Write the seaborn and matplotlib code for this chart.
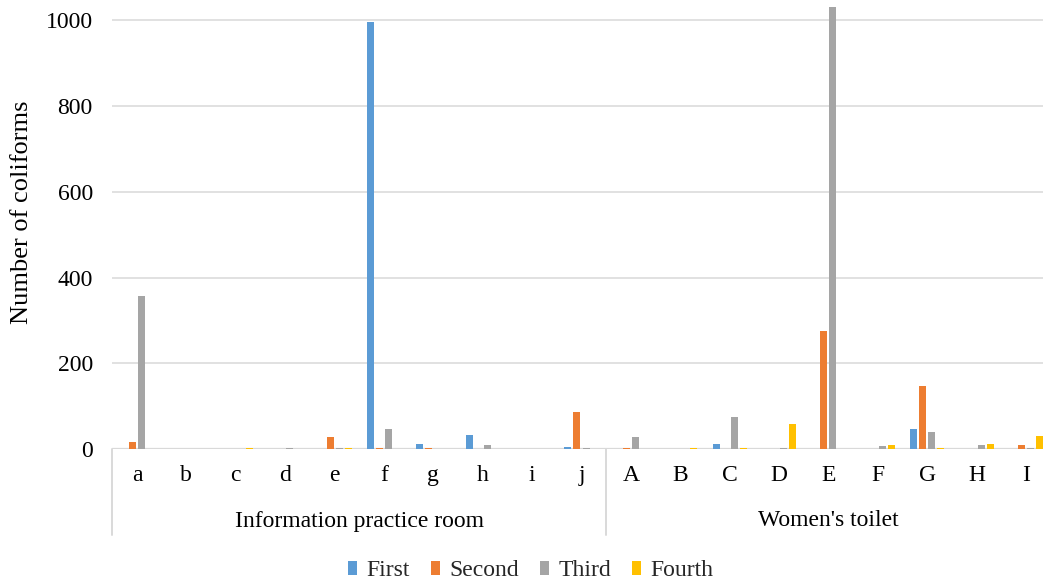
import matplotlib
matplotlib.use("Agg")
import matplotlib.pyplot as plt
from matplotlib.patches import Patch
import numpy as np
import pandas as pd
import seaborn as sns

# Sampling sites: lowercase = information practice room, uppercase = women's toilet
sites_room = ["a", "b", "c", "d", "e", "f", "g", "h", "i", "j"]
sites_toilet = ["A", "B", "C", "D", "E", "F", "G", "H", "I"]
groups = ["Information practice room", "Women's toilet"]
rounds = ["First", "Second", "Third", "Fourth"]

# Coliform counts per sampling round (room sites a-j, then toilet sites A-I)
first = [0, 0, 0, 0, 0, 995, 12, 33, 0, 5,
         0, 0, 12, 0, 0, 0, 47, 0, 0]
second = [16, 0, 0, 0, 28, 3, 2, 0, 0, 88,
          4, 0, 0, 0, 275, 0, 148, 0, 10]
third = [358, 0, 0, 4, 4, 47, 0, 10, 0, 4,
         28, 0, 76, 2, 1030, 7, 40, 10, 4]
fourth = [0, 0, 4, 0, 4, 0, 0, 0, 0, 0,
          0, 4, 4, 58, 0, 10, 4, 12, 31]

palette = ["#5B9BD5", "#ED7D31", "#A5A5A5", "#FFC000"]
yticks = [0, 200, 400, 600, 800, 1000]

sites = sites_room + sites_toilet
df = pd.DataFrame({
    "site": sites * 4,
    "round": np.repeat(rounds, len(sites)),
    "count": first + second + third + fourth,
})

sns.set_theme(style="white")
plt.rcParams["font.family"] = ["Liberation Serif", "DejaVu Serif"]

W, H = 1043, 585
fig = plt.figure(figsize=(W / 100, H / 100), dpi=100)
left_px, right_px, base_px = 112.3, 1050.7, 449.3
ax = fig.add_axes([left_px / W, (H - base_px) / H,
                   (right_px - left_px) / W, base_px / H])

sns.barplot(data=df, x="site", y="count", hue="round", order=sites,
            hue_order=rounds, palette=palette, width=0.73, dodge=True,
            saturation=1, legend=False, ax=ax, linewidth=0, errorbar=None)

# narrow each bar inside its slot so neighbours are separated by white gaps
for p in ax.patches:
    c = p.get_x() + p.get_width() / 2
    p.set_width(0.142)
    p.set_x(c - 0.071)
    p.set_zorder(2)

n = len(sites)
ax.set_xlim(-0.5, n - 0.5)
ytop = base_px / 0.42930
ax.set_ylim(0, ytop)
ax.set_yticks(yticks)
ax.set_yticklabels([str(v) for v in yticks])
ax.yaxis.grid(True, color="#D9D9D9", linewidth=1.1)
ax.set_axisbelow(True)
for s in ax.spines.values():
    s.set_visible(False)
ax.tick_params(axis="y", length=0, pad=14, labelsize=17, colors="#000000")
ax.tick_params(axis="x", length=0, pad=11, labelsize=17, colors="#000000")
ax.set_xlabel("")
ax.set_ylabel("")

# category axis: baseline, group separators and group captions
ax.axhline(0, color="#D9D9D9", linewidth=1.6, zorder=1)
sep_depth = (535 - base_px) / base_px
for xs in [-0.5, len(sites_room) - 0.5, n - 0.5]:
    ax.plot([xs, xs], [0, -sep_depth], color="#D9D9D9", linewidth=1.4,
            transform=ax.get_xaxis_transform(), clip_on=False)
centers = [(len(sites_room) - 1) / 2, (len(sites_room) - 0.5 + n - 0.5) / 2]
for cx, name in zip(centers, groups):
    ax.annotate(name, xy=(cx, 0), xycoords=("data", "axes fraction"),
                xytext=(0, -(521 - base_px) * 0.72), textcoords="offset points",
                ha="center", va="center", fontsize=17, color="#000000")

fig.text(22 / W, 1 - 212 / H, "Number of coliforms", rotation=90,
         ha="center", va="center", fontsize=19, color="#000000")

handles = [Patch(facecolor=c, edgecolor="none", label=r)
           for c, r in zip(palette, rounds)]
fig.legend(handles=handles, loc="center", bbox_to_anchor=(531 / W, 1 - 571 / H),
           ncol=4, frameon=False, fontsize=17, handlelength=0.37,
           handleheight=0.5, handletextpad=0.4, columnspacing=0.9,
           borderaxespad=0, borderpad=0)

fig.savefig("out.png", dpi=100)
